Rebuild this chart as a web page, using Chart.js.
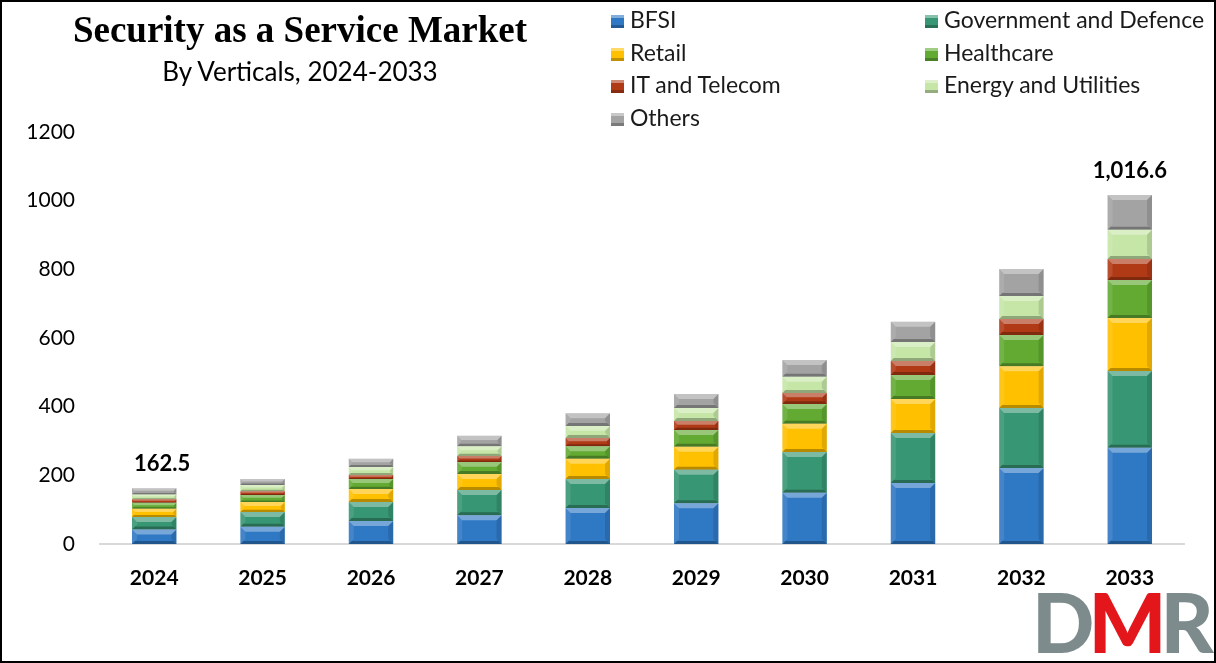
<!DOCTYPE html>
<html>
<head>
<meta charset="utf-8">
<script src="https://cdn.jsdelivr.net/npm/chart.js@4.4.1/dist/chart.umd.min.js"></script>
<style>
  body { margin: 0; background: #fff; }
  #frame { position: relative; width: 1216px; height: 663px; box-sizing: border-box; border: 2px solid #000; overflow: hidden; }
  #chart { position: absolute; left: -2px; top: -2px; }
  .title { position: absolute; left: 0; width: 596px; text-align: center; color: #000; }
  #t1 { top: 6px; font: bold 37px "Liberation Serif", "Times New Roman", serif; }
  #t2 { top: 53px; font: 26px Lato, sans-serif; }
  .lg { position: absolute; font: 23px Lato, sans-serif; color: #1a1a1a; white-space: nowrap; line-height: 26px; }
  .lg i { display: inline-block; width: 13px; height: 13px; margin-right: 6px; vertical-align: 0px;
          box-shadow: inset 0 3px 0 rgba(255,255,255,.4), inset 0 -3px 0 rgba(0,0,0,.25); }
  #logo { position: absolute; left: 1030px; top: 570px; font: 900 82px Lato, sans-serif; letter-spacing: -6px; }
</style>
</head>
<body>
<div id="frame">
  <canvas id="chart" width="1216" height="663"></canvas>
  <div class="title" id="t1">Security as a Service Market</div>
  <div class="title" id="t2">By Verticals, 2024-2033</div>
  <div id="legend"></div>
  <div id="logo"><span style="color:#7d8b8c">D</span><span style="color:#e3161b">M</span><span style="color:#7d8b8c">R</span></div>
</div>
<script>
// Data
const years = ['2024', '2025', '2026', '2027', '2028', '2029', '2030', '2031', '2032', '2033'];
const bfsi       = [42, 50, 67, 84, 105, 119, 149, 178, 221, 280];
const government = [37, 43, 55, 73, 84, 97, 119, 145, 175, 224];
const retail     = [24, 29, 38, 47, 59, 67, 82, 99, 122, 154];
const healthcare = [17, 21, 29, 35, 37, 49, 58, 70, 91, 111];
const itTelecom  = [10, 11, 12, 17, 24, 26, 32, 41, 46, 61];
const energy     = [14, 18, 23, 29, 35, 38, 47, 55, 67, 85];
const others     = [18.5, 17, 24, 30, 37, 41, 49, 59, 79, 101.6];
const yTicks = [0, 200, 400, 600, 800, 1000, 1200];
const totalLabelIdx = [0, 9]; // only first and last totals are labelled

const series = [
  { label: 'BFSI', data: bfsi, color: '#2f78c4' },
  { label: 'Government and Defence', data: government, color: '#379673' },
  { label: 'Retail', data: retail, color: '#ffc000' },
  { label: 'Healthcare', data: healthcare, color: '#62aa32' },
  { label: 'IT and Telecom', data: itTelecom, color: '#b03a16' },
  { label: 'Energy and Utilities', data: energy, color: '#c6e6a8' },
  { label: 'Others', data: others, color: '#a3a3a3' },
];

// Legend (two columns, Excel style)
const legendEl = document.getElementById('legend');
series.forEach((s, i) => {
  const d = document.createElement('div');
  d.className = 'lg';
  d.style.left = (i % 2 === 0 ? 609 : 923) + 'px';
  d.style.top = (4 + Math.floor(i / 2) * 32.5) + 'px';
  d.innerHTML = '<i style="background:' + s.color + '"></i>' + s.label;
  legendEl.appendChild(d);
});

function poly(ctx, pts, fill) {
  ctx.beginPath();
  ctx.moveTo(pts[0], pts[1]);
  for (let k = 2; k < pts.length; k += 2) ctx.lineTo(pts[k], pts[k + 1]);
  ctx.closePath();
  ctx.fillStyle = fill;
  ctx.fill();
}

// Bevel look on every bar segment
const bevel = {
  id: 'bevel',
  afterDatasetsDraw(chart) {
    const ctx = chart.ctx;
    ctx.save();
    chart.data.datasets.forEach((ds, i) => {
      chart.getDatasetMeta(i).data.forEach(bar => {
        const { x, y, base, width } = bar.getProps(['x', 'y', 'base', 'width'], true);
        const l = x - width / 2, r = x + width / 2;
        const t = Math.min(y, base), b = Math.max(y, base);
        const d = Math.min(5, (b - t) / 2.5);
        poly(ctx, [l, t, r, t, r - d, t + d, l + d, t + d], 'rgba(255,255,255,0.35)');
        poly(ctx, [l, t, l + d, t + d, l + d, b - d, l, b], 'rgba(255,255,255,0.1)');
        poly(ctx, [r, t, r, b, r - d, b - d, r - d, t + d], 'rgba(0,0,0,0.12)');
        poly(ctx, [l, b, r, b, r - d * 0.6, b - d * 0.6, l + d * 0.6, b - d * 0.6], 'rgba(0,0,0,0.28)');
      });
    });
    ctx.restore();
  }
};

// Totals above chosen bars
const totals = {
  id: 'totals',
  afterDatasetsDraw(chart) {
    const ctx = chart.ctx;
    const last = chart.getDatasetMeta(series.length - 1);
    ctx.save();
    ctx.font = 'bold 22px Lato, sans-serif';
    ctx.fillStyle = '#000';
    ctx.textAlign = 'center';
    ctx.textBaseline = 'middle';
    totalLabelIdx.forEach(idx => {
      const sum = series.reduce((a, s) => a + s.data[idx], 0);
      const bar = last.data[idx];
      const txt = sum.toLocaleString('en-US', { minimumFractionDigits: 1, maximumFractionDigits: 1 });
      ctx.fillText(txt, bar.x + (idx === 0 ? 8 : 0), bar.y - 24);
    });
    ctx.restore();
  }
};

new Chart(document.getElementById('chart'), {
  type: 'bar',
  data: {
    labels: years,
    datasets: series.map(s => ({
      label: s.label,
      data: s.data,
      backgroundColor: s.color,
      borderWidth: 0,
      categoryPercentage: 1,
      barPercentage: 0.41,
    })),
  },
  options: {
    responsive: false,
    animation: false,
    layout: { padding: { top: 132, left: 14, right: 32, bottom: 59 } },
    plugins: {
      legend: { display: false },
      tooltip: { enabled: false },
    },
    scales: {
      x: {
        stacked: true,
        grid: { display: false },
        border: { display: true, color: '#d9d9d9', width: 2 },
        ticks: { color: '#000', padding: 14, font: { family: 'Lato', size: 21, weight: 'bold' } },
        afterFit(scale) { scale.height = 60; },
      },
      y: {
        stacked: true,
        min: 0,
        max: 1200,
        afterBuildTicks(scale) { scale.ticks = yTicks.map(v => ({ value: v })); },
        grid: { display: false },
        border: { display: false },
        ticks: {
          color: '#000', padding: 17, font: { family: 'Lato', size: 21 },
          callback: v => String(v),
        },
        afterFit(scale) { scale.width = 86; },
      },
    },
  },
  plugins: [bevel, totals],
});
</script>
</body>
</html>
